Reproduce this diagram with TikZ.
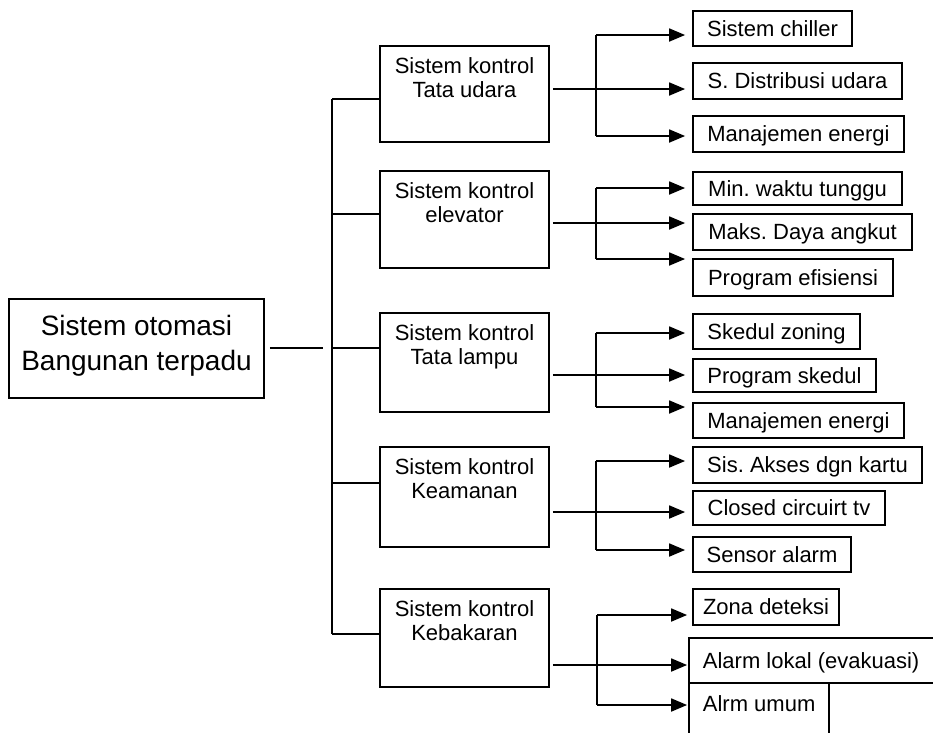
\documentclass[tikz,border=0pt]{standalone}
\usepackage{fontspec}
\setmainfont{Liberation Sans}
\usetikzlibrary{arrows.meta}
\frenchspacing
\newcommand{\rbox}[6]{\node[box, rtext, minimum width={(#4)-(#2)}, minimum height={(#5)-(#3)}] (#1) at ({((#2)+(#4))/2},{((#3)+(#5))/2}) {#6};}
\newcommand{\midbox}[5]{\node[box, minimum width=169, minimum height={(#4)-(#3)}] (#1) at (464.5,{((#3)+(#4))/2}) {};
  \node[mtext, anchor=north] (#1t) at ([yshift=-11pt]#1.north) {\rule{0pt}{16pt}#5};}
\begin{document}
\frenchspacing
\begin{tikzpicture}[x=1pt,y=-1pt,line width=1.8pt,
  box/.style={draw, line width=1.8pt, inner sep=0pt, rectangle},
  rtext/.style={font=\fontsize{22}{24}\selectfont, text height=16pt, text depth=1pt},
  mtext/.style={inner sep=0pt, align=center, font=\fontsize{22}{24}\selectfont},
  arr/.style={-{Triangle[length=16pt,width=13pt]}},
]
\useasboundingbox (0,0) rectangle (933,732);
\fill[white] (0,0) rectangle (933,732);
\clip (0,0) rectangle (933,732);

% main box
\node[box, minimum width=255, minimum height=99] (main) at (136.5,348.5) {};
\node[inner sep=0pt, align=center, font=\fontsize{28}{35}\selectfont, anchor=north] (maint)
  at ([yshift=-15pt]main.north) {\rule{0pt}{21pt}Sistem otomasi\\Bangunan terpadu};

% middle boxes
\midbox{m1}{}{46}{142}{Sistem kontrol\\Tata udara}
\midbox{m2}{}{171}{268}{Sistem kontrol\\elevator}
\midbox{m3}{}{313}{412}{Sistem kontrol\\Tata lampu}
\midbox{m4}{}{447}{547}{Sistem kontrol\\Keamanan}
\midbox{m5}{}{589}{687}{Sistem kontrol\\Kebakaran}

% right boxes
\rbox{r11}{693}{11}{852}{46}{Sistem chiller}
\rbox{r12}{693}{63}{902}{99}{S. Distribusi udara}
\rbox{r13}{693}{116}{904}{152}{Manajemen energi}
\rbox{r21}{693}{172}{902}{205}{Min. waktu tunggu}
\rbox{r22}{693}{214}{912}{250}{Maks. Daya angkut}
\rbox{r23}{693}{259}{893}{296}{Program efisiensi}
\rbox{r31}{693}{314}{860}{349}{Skedul zoning}
\rbox{r32}{693}{359}{876}{392}{Program skedul}
\rbox{r33}{693}{403}{904}{438}{Manajemen energi}
\rbox{r41}{693}{447}{922}{483}{Sis. Akses dgn kartu}
\rbox{r42}{693}{491}{885}{525}{Closed circuirt tv}
\rbox{r43}{693}{537}{851}{572}{Sensor alarm}
\rbox{r51}{693}{589}{839}{625}{Zona deteksi}
\node[box, minimum width=256, minimum height=45] (r52) at (817,660.5) {};
\node[rtext, inner sep=0pt, anchor=west] (r52t) at (702,660.5) {Alarm lokal (evakuasi)};
\node[box, minimum width=140, minimum height=67] (r53) at (759,716.5) {};
\node[rtext, inner sep=0pt, anchor=west] (r53t) at (702,704) {Alrm umum};

% trunk
\coordinate (mj) at (323,348);
\draw[shorten <=5pt] (main.east |- mj) -- (mj);
\coordinate (t1) at (332,99);
\coordinate (t2) at (332,214);
\coordinate (t3) at (332,348);
\coordinate (t4) at (332,483);
\coordinate (t5) at (332,634);
\draw (t1) -- (t5);
\foreach \i in {1,...,5} { \draw (t\i) -- (t\i -| m\i.west); }

% group 1
\coordinate (g1a) at (596,35);
\coordinate (g1c) at (596,136);
\coordinate (o1) at (549,89);
\draw (g1a) -- (g1c);
\draw[arr, shorten >=7pt] (g1a) -- (g1a -| r11.west);
\draw[arr, shorten <=3pt, shorten >=7pt] (m1.east |- o1) -- (o1 -| r12.west);
\draw[arr, shorten >=7pt] (g1c) -- (g1c -| r13.west);

% group 2
\coordinate (g2a) at (596,188);
\coordinate (g2c) at (596,259);
\coordinate (o2) at (549,223);
\draw (g2a) -- (g2c);
\draw[arr, shorten >=7pt] (g2a) -- (g2a -| r21.west);
\draw[arr, shorten <=3pt, shorten >=7pt] (m2.east |- o2) -- (o2 -| r22.west);
\draw[arr, shorten >=7pt] (g2c) -- (g2c -| r23.west);

% group 3
\coordinate (g3a) at (596,333);
\coordinate (g3c) at (596,407);
\coordinate (o3) at (549,375);
\draw (g3a) -- (g3c);
\draw[arr, shorten >=7pt] (g3a) -- (g3a -| r31.west);
\draw[arr, shorten <=3pt, shorten >=7pt] (m3.east |- o3) -- (o3 -| r32.west);
\draw[arr, shorten >=7pt] (g3c) -- (g3c -| r33.west);

% group 4
\coordinate (g4a) at (596,461);
\coordinate (g4c) at (596,550);
\coordinate (o4) at (549,512);
\draw (g4a) -- (g4c);
\draw[arr, shorten >=7pt] (g4a) -- (g4a -| r41.west);
\draw[arr, shorten <=3pt, shorten >=7pt] (m4.east |- o4) -- (o4 -| r42.west);
\draw[arr, shorten >=7pt] (g4c) -- (g4c -| r43.west);

% group 5
\coordinate (g5a) at (597,615);
\coordinate (g5c) at (597,705);
\coordinate (o5) at (549,665);
\draw (g5a) -- (g5c);
\draw[arr, shorten >=5pt] (g5a) -- (g5a -| r51.west);
\draw[arr, shorten <=3pt, shorten >=1pt] (m5.east |- o5) -- (o5 -| r52.west);
\draw[arr, shorten >=1pt] (g5c) -- (g5c -| r53.west);
\end{tikzpicture}
\end{document}
